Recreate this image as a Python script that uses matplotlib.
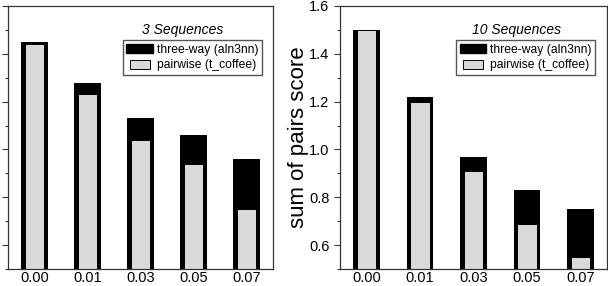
import matplotlib
matplotlib.use("Agg")
import matplotlib.pyplot as plt
from matplotlib.patches import Patch, Rectangle
from matplotlib.legend_handler import HandlerPatch
from matplotlib.ticker import MultipleLocator

plt.rcParams['font.family'] = ['Liberation Sans', 'DejaVu Sans']

rates = ["0.00", "0.01", "0.03", "0.05", "0.07"]

# 3 sequences (left panel, y labels not visible in the source)
three_way_3 = [1.45, 1.28, 1.13, 1.06, 0.96]
pairwise_3 = [1.44, 1.23, 1.04, 0.94, 0.75]

# 10 sequences
three_way_10 = [1.50, 1.22, 0.97, 0.83, 0.75]
pairwise_10 = [1.50, 1.20, 0.91, 0.69, 0.55]

GRAY = "#d9d9d9"
SPINE = "#333333"


def narrow_patch(legend, orig_handle, xdescent, ydescent, width, height, fontsize):
    # the pairwise key is a bit narrower than the black one
    return Rectangle((-xdescent + width * 0.12, -ydescent), width * 0.76, height)


def draw_panel(ax, three, pair, title, show_labels):
    x = range(len(rates))
    ax.bar(x, three, width=0.5, bottom=0, color="black", edgecolor="black", linewidth=0)
    ax.bar(x, pair, width=0.36, bottom=0, color=GRAY, edgecolor="black", linewidth=0.7)
    ax.set_xlim(-0.5, 4.5)
    ax.set_ylim(0.5, 1.6)
    ax.set_xticks(list(x))
    ax.set_xticklabels(rates, fontsize=10.5)
    ax.tick_params(axis="x", length=0, pad=1.5)
    ax.yaxis.set_major_locator(MultipleLocator(0.2))
    ax.yaxis.set_minor_locator(MultipleLocator(0.1))
    ax.tick_params(axis="y", which="major", length=4, width=0.8, color=SPINE, labelsize=10.5)
    ax.tick_params(axis="y", which="minor", length=2, width=0.8, color=SPINE)
    if not show_labels:
        ax.set_yticklabels([])
    for s in ax.spines.values():
        s.set_color(SPINE)
        s.set_linewidth(0.9)
    ax.text(0.66, 0.91, title, transform=ax.transAxes, ha="center", va="center",
            fontsize=10, style="italic")
    handles = [Patch(facecolor="black", edgecolor="black"),
               Patch(facecolor=GRAY, edgecolor="black", linewidth=0.7)]
    ax.legend(handles, ["three-way (aln3nn)", "pairwise (t_coffee)"],
              loc="upper center", bbox_to_anchor=(0.695, 0.87),
              fontsize=8.7, frameon=True, fancybox=False, edgecolor="#555555",
              framealpha=1, handlelength=2.2, handleheight=0.8, handletextpad=0.3,
              borderpad=0.3, labelspacing=0.3, borderaxespad=0,
              handler_map={handles[1]: HandlerPatch(patch_func=narrow_patch)})


fig = plt.figure(figsize=(6.08, 2.86), dpi=100)
ax1 = fig.add_axes([8 / 608, 17 / 286, 265 / 608, 263 / 286])
ax2 = fig.add_axes([340 / 608, 17 / 286, 267 / 608, 263 / 286])

draw_panel(ax1, three_way_3, pairwise_3, "3 Sequences", False)
draw_panel(ax2, three_way_10, pairwise_10, "10 Sequences", True)
ax2.set_ylabel("sum of pairs score", fontsize=16, labelpad=0)

fig.savefig("out.png", dpi=100)
